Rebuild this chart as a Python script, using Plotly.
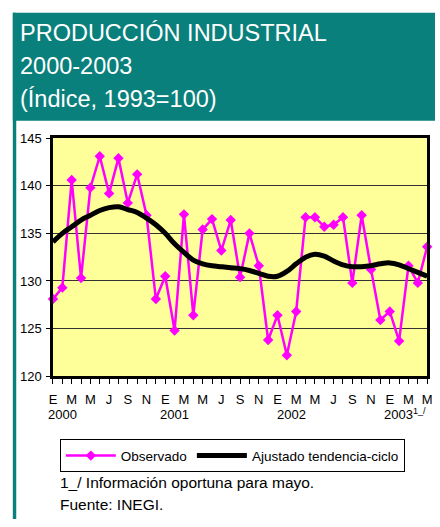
import plotly.graph_objects as go

# ---- data ----
month_letters = ["E", "F", "M", "A", "M", "J", "J", "A", "S", "O", "N", "D"]
n_months = 41  # Jan 2000 .. May 2003
observado = [128.1, 129.3, 140.6, 130.3, 139.8, 143.1, 139.2, 142.9, 138.2, 141.2,
             136.9, 128.1, 130.5, 124.8, 137.0, 126.4, 135.4, 136.5, 133.2, 136.4,
             130.4, 135.0, 131.6, 123.8, 126.4, 122.2, 126.8, 136.7, 136.7, 135.7,
             135.9, 136.7, 129.8, 136.9, 131.2, 125.9, 126.8, 123.7, 131.6, 129.8, 133.6]
tendencia = [134.1, 135.0, 135.7, 136.4, 136.9, 137.4, 137.7, 137.8, 137.5, 137.2,
             136.6, 135.9, 135.0, 133.9, 133.0, 132.2, 131.8, 131.6, 131.5, 131.4,
             131.3, 131.1, 130.8, 130.5, 130.5, 131.0, 131.8, 132.5, 132.8, 132.6,
             132.1, 131.7, 131.5, 131.5, 131.6, 131.8, 131.9, 131.7, 131.3, 130.9, 130.5]
year_labels = ["2000", "2001", "2002", "2003<sup>1_/</sup>"]
year_pos = [1.0, 13.0, 25.5, 37.6]
y_ticks = [120, 125, 130, 135, 140, 145]

x = list(range(n_months))
label_vals = [i for i in x if i % 2 == 0]
label_text = [month_letters[i % 12] for i in label_vals]

W, H = 440, 527
FONT = "Arial, Liberation Sans, sans-serif"
TEAL = "#0a807c"


def px_x(v):
    return v / W


def px_y(v):
    return 1 - v / H


fig = go.Figure()
fig.add_trace(go.Scatter(
    x=x, y=observado, name="Observado", mode="lines+markers",
    line=dict(color="#ff00ff", width=2.5),
    marker=dict(symbol="diamond", size=8, color="#ff00ff"),
    cliponaxis=False,
))
fig.add_trace(go.Scatter(
    x=x, y=tendencia, name="Ajustado tendencia-ciclo", mode="lines",
    line=dict(color="#000000", width=5, shape="spline", smoothing=1.0),
    cliponaxis=False,
))

shapes = [
    # teal header
    dict(type="rect", xref="paper", yref="paper", x0=px_x(9), x1=1.0,
         y0=px_y(117), y1=px_y(6), fillcolor=TEAL, line=dict(width=0), layer="below"),
    # teal left strip
    dict(type="rect", xref="paper", yref="paper", x0=px_x(9), x1=px_x(12.5),
         y0=0, y1=px_y(6), fillcolor=TEAL, line=dict(width=0), layer="below"),
]

annotations = []
for txt, yc in [("PRODUCCIÓN INDUSTRIAL", 27), ("2000-2003", 61), ("(Índice, 1993=100)", 95)]:
    annotations.append(dict(text=txt, xref="paper", yref="paper", x=px_x(14), y=px_y(yc),
                            xanchor="left", yanchor="middle", showarrow=False,
                            font=dict(family=FONT, size=23.5, color="white")))
for lbl, pos in zip(year_labels, year_pos):
    annotations.append(dict(text=lbl, xref="x", yref="paper", x=pos, y=px_y(419),
                            xanchor="center", yanchor="middle", showarrow=False,
                            font=dict(family=FONT, size=13, color="black")))
annotations.append(dict(text="1_/ Información oportuna para mayo.", xref="paper", yref="paper",
                        x=px_x(55), y=px_y(489), xanchor="left", yanchor="middle",
                        showarrow=False, font=dict(family=FONT, size=15.5, color="black")))
annotations.append(dict(text="Fuente: INEGI.", xref="paper", yref="paper",
                        x=px_x(55), y=px_y(512), xanchor="left", yanchor="middle",
                        showarrow=False, font=dict(family=FONT, size=15.5, color="black")))

fig.update_layout(
    width=W, height=H,
    margin=dict(l=0, r=0, t=0, b=0),
    paper_bgcolor="white",
    plot_bgcolor="#ffff99",
    font=dict(family=FONT, size=13, color="black"),
    shapes=shapes,
    annotations=annotations,
    showlegend=True,
    legend=dict(orientation="h", x=px_x(57), y=px_y(445), xanchor="left", yanchor="top",
                bordercolor="black", borderwidth=1, bgcolor="white",
                font=dict(family=FONT, size=13.5, color="black"),
                itemwidth=50, tracegroupgap=0),
    xaxis=dict(domain=[px_x(50), px_x(432)], range=[0, n_months - 1],
               tickmode="array", tickvals=label_vals, ticktext=label_text,
               ticks="outside", ticklen=5, tickwidth=1, tickcolor="black",
               minor=dict(ticks="outside", ticklen=5, tickwidth=1, tickcolor="black",
                          tick0=0, dtick=1, showgrid=False),
               showgrid=False, zeroline=False,
               showline=True, linecolor="black", linewidth=2.5, mirror=True,
               ticklabelstandoff=4,
               tickfont=dict(family=FONT, size=13, color="black"), fixedrange=True),
    yaxis=dict(domain=[px_y(380), px_y(135)], range=[120, 145],
               tickmode="array", tickvals=y_ticks,
               ticks="outside", ticklen=4, tickwidth=1, tickcolor="black",
               showgrid=True, gridcolor="#333333", gridwidth=1, zeroline=False,
               showline=True, linecolor="black", linewidth=2.5, mirror=True,
               ticklabelstandoff=2,
               tickfont=dict(family=FONT, size=13, color="black"), fixedrange=True),
)

fig.write_html("out.html", config={"displayModeBar": False},
               post_script=("document.body.style.margin='0';document.body.style.padding='0';"
                            "document.body.style.overflow='hidden';"
                            "document.documentElement.style.overflow='hidden';"))
